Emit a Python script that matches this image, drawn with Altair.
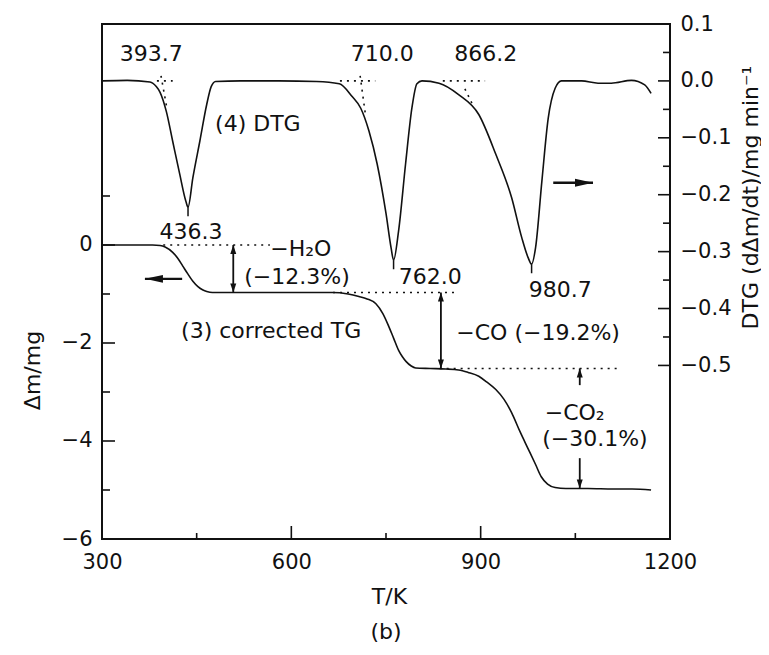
import altair as alt
import pandas as pd

FONT = "DejaVu Sans"
W, H = 568, 515

# ---------------- data ----------------
# (3) corrected TG  (left axis, mg)
tg_T = [300, 340, 380, 392, 400, 412, 420, 428, 436, 444, 452, 460, 466, 475, 500, 560, 620, 665,
        690, 707, 720, 734, 745, 755, 762, 770, 776, 782, 790, 797, 820, 845, 865, 880, 897, 910,
        924, 937, 949, 962, 976, 987, 996, 1006, 1018, 1035, 1070, 1110, 1140, 1170]
tg_m = [0.0, 0.0, 0.0, -0.01, -0.04, -0.15, -0.27, -0.43, -0.59, -0.74, -0.85, -0.92, -0.95, -0.97,
        -0.97, -0.97, -0.97, -0.97, -1.0, -1.05, -1.1, -1.2, -1.4, -1.68, -1.9, -2.15, -2.28, -2.38,
        -2.47, -2.51, -2.52, -2.53, -2.55, -2.6, -2.68, -2.8, -2.95, -3.15, -3.42, -3.8, -4.18, -4.48,
        -4.73, -4.88, -4.95, -4.97, -4.97, -4.98, -4.98, -5.0]

# (4) DTG  (right axis, mg/min)
dtg_T = [300, 340, 376, 386, 392, 402, 412, 423, 433, 436.3, 444, 455, 466, 473, 480, 520, 580, 640,
         676, 696, 710, 723, 736, 750, 758, 762, 770, 781, 791, 799, 807, 834, 865, 897, 924, 949,
         965, 975, 980.7, 987, 997, 1007, 1018, 1028, 1060, 1086, 1107, 1139, 1160, 1170]
dtg_v = [0.0, 0.001, -0.002, -0.01, -0.02, -0.054, -0.106, -0.163, -0.212, -0.222, -0.17, -0.106,
         -0.041, -0.01, -0.001, 0.0, 0.0, -0.001, -0.005, -0.027, -0.048, -0.088, -0.146, -0.233,
         -0.293, -0.315, -0.263, -0.146, -0.048, -0.005, 0.0, -0.004, -0.024, -0.059, -0.129, -0.205,
         -0.275, -0.31, -0.322, -0.293, -0.176, -0.066, -0.013, 0.0, 0.0, -0.004, -0.004, 0.001,
         -0.007, -0.022]

# dotted guide lines on the TG scale
tg_dot_T1 = [397, 666, 835]
tg_dot_T2 = [566, 862, 1116]
tg_dot_m = [0.0, -0.97, -2.52]

# dotted baseline pieces and tangents on the DTG scale
dtg_dot_T1 = [387, 677, 840, 393.5, 709, 875]
dtg_dot_T2 = [412, 733, 907, 403, 717, 886]
dtg_dot_v1 = [0.0, 0.0, 0.0, 0.009, 0.009, -0.014]
dtg_dot_v2 = [0.0, 0.0, 0.0, -0.049, -0.056, -0.039]

# peak markers below the DTG minima
peak_T = [436.3, 762.0, 980.7]
peak_v = [-0.222, -0.315, -0.322]

# vertical mass-loss arrows (TG scale)
arr_T = [508, 837, 1057, 1057]
arr_m1 = [0.0, -0.97, -2.52, -4.35]
arr_m2 = [-0.97, -2.52, -2.86, -4.97]
head_up_T = [508, 837, 1057]
head_up_m = [0.0, -0.97, -2.52]
head_dn_T = [508, 837, 1057]
head_dn_m = [-0.97, -2.52, -4.97]

# horizontal axis-pointer arrows
left_arrow = dict(T1=368, T2=427, m=-0.69)
right_arrow = dict(T1=1015, T2=1078, v=-0.179)

# annotation texts
tg_lab = ["\u2212H\u2082O", "(\u221212.3%)", "(3) corrected TG", "\u2212CO (\u221219.2%)",
          "\u2212CO\u2082", "(\u221230.1%)"]
tg_lab_T = [615, 609, 568, 991, 1049, 1081]
tg_lab_m = [-0.08, -0.65, -1.76, -1.80, -3.42, -3.96]

dtg_lab = ["393.7", "710.0", "866.2", "(4) DTG", "436.3", "762.0", "980.7"]
dtg_lab_T = [378, 744, 908, 547, 441, 820, 1026]
dtg_lab_v = [0.0465, 0.0465, 0.0465, -0.076, -0.265, -0.345, -0.368]

# axis ticks
x_major = [600, 900]
x_minor = [450, 750, 1050]
tg_major = [0, -2, -4]
tg_minor = [1, -1, -3, -5]
dtg_major = [0.0, -0.1, -0.2, -0.3, -0.4, -0.5]
dtg_minor = [0.05, -0.05, -0.15, -0.25, -0.35, -0.45]

x_labels = [300, 600, 900, 1200]
tg_labels = [0, -2, -4, -6]
dtg_labels = [0.1, 0.0, -0.1, -0.2, -0.3, -0.4, -0.5]

# ---------------- scales and axes ----------------
X_DOM = [300, 1200]
TG_DOM = [-6, 4.51]
DTG_DOM = [-0.805, 0.1]

def xs():
    return alt.Scale(domain=X_DOM, nice=False, zero=False)

def ts():
    return alt.Scale(domain=TG_DOM, nice=False, zero=False)

def ds():
    return alt.Scale(domain=DTG_DOM, nice=False, zero=False)

INK = "#111111"

def common():
    return dict(ticks=False, domain=False, grid=False, labelFont=FONT, labelFontSize=21,
                labelColor=INK, titleFont=FONT, titleFontSize=22, titleFontWeight="normal",
                titleColor=INK, zindex=2)

def x_axis():
    return alt.Axis(orient="bottom", values=x_labels, format="d", labelPadding=12,
                    labelFlush=False, title="T/K", titleY=57, titleX=287,
                    titleBaseline="middle", **common())

tg_axis = alt.Axis(orient="left", values=tg_labels, labelPadding=10,
                   labelExpr="replace(format(datum.value, 'd'), '-', '\u2212')",
                   title="\u0394m/mg", titleX=-70, titleY=346, titleAngle=270,
                   titleAlign="center", titleBaseline="middle", **common())
dtg_axis = alt.Axis(orient="right", values=dtg_labels, labelPadding=10,
                    labelExpr="replace(format(datum.value, '.1f'), '-', '\u2212')",
                    title="DTG (d\u0394m/dt)/mg min\u207b\u00b9", titleX=80, titleY=173,
                    titleAngle=270, titleAlign="center", titleBaseline="middle", **common())

def xq(f):
    # every layer carries the same x axis definition so the shared axis merges cleanly
    return alt.X(f, type="quantitative", scale=xs(), axis=x_axis())

def tq(f):
    return alt.Y(f, type="quantitative", scale=ts(), axis=None)

def dq(f):
    return alt.Y(f, type="quantitative", scale=ds(), axis=None)

UP = "M0,0 L-1,3 L1,3 Z"
DOWN = "M0,0 L-1,-3 L1,-3 Z"
LEFT = "M0,0 L6,-1.3 L6,1.3 Z"
RIGHT = "M0,0 L-6,-1.3 L-6,1.3 Z"

# ---------------- TG marks ----------------
tg_df = pd.DataFrame({"T": tg_T, "m": tg_m})
tg_line = alt.Chart(tg_df).mark_line(color=INK, strokeWidth=1.6, interpolate="monotone").encode(
    x=xq("T"),
    y=alt.Y("m:Q", scale=ts(), axis=tg_axis),
)
tg_dots = alt.Chart(pd.DataFrame({"T1": tg_dot_T1, "T2": tg_dot_T2, "m": tg_dot_m})).mark_rule(
    color=INK, strokeWidth=1.6, strokeDash=[2, 5]).encode(x=xq("T1"), x2="T2", y=tq("m"))
tg_arr = alt.Chart(pd.DataFrame({"T": arr_T, "m1": arr_m1, "m2": arr_m2})).mark_rule(
    color=INK, strokeWidth=1.8).encode(x=xq("T"), y=tq("m1"), y2="m2")
tg_hu = alt.Chart(pd.DataFrame({"T": head_up_T, "m": head_up_m})).mark_point(
    shape=UP, filled=True, size=36, color=INK, opacity=1, strokeWidth=0).encode(x=xq("T"), y=tq("m"))
tg_hd = alt.Chart(pd.DataFrame({"T": head_dn_T, "m": head_dn_m})).mark_point(
    shape=DOWN, filled=True, size=36, color=INK, opacity=1, strokeWidth=0).encode(x=xq("T"), y=tq("m"))
la_df = pd.DataFrame([left_arrow])
tg_la = alt.Chart(la_df).mark_rule(color=INK, strokeWidth=2.2).encode(x=xq("T1"), x2="T2", y=tq("m"))
tg_lah = alt.Chart(la_df).mark_point(shape=LEFT, filled=True, size=36, color=INK, opacity=1,
                                     strokeWidth=0).encode(x=xq("T1"), y=tq("m"))
tg_text = alt.Chart(pd.DataFrame({"T": tg_lab_T, "m": tg_lab_m, "t": tg_lab})).mark_text(
    font=FONT, fontSize=22, align="center", baseline="middle", color=INK).encode(
    x=xq("T"), y=tq("m"), text="t:N")

def xticks(vals, ln):
    return alt.Chart(pd.DataFrame({"T": vals})).mark_rule(color=INK, strokeWidth=1.6).encode(
        x=xq("T"), y=alt.value(H), y2=alt.value(H - ln))

def tticks(vals, ln):
    return alt.Chart(pd.DataFrame({"m": vals})).mark_rule(color=INK, strokeWidth=1.6).encode(
        y=tq("m"), x=alt.value(0), x2=alt.value(ln))

# ---------------- DTG marks ----------------
dtg_df = pd.DataFrame({"T": dtg_T, "v": dtg_v})
dtg_line = alt.Chart(dtg_df).mark_line(color=INK, strokeWidth=1.6, interpolate="monotone").encode(
    x=xq("T"),
    y=alt.Y("v:Q", scale=ds(), axis=dtg_axis),
)
dtg_dots = alt.Chart(pd.DataFrame({"T1": dtg_dot_T1, "T2": dtg_dot_T2, "v1": dtg_dot_v1,
                                   "v2": dtg_dot_v2})).mark_rule(
    color=INK, strokeWidth=1.6, strokeDash=[2, 5]).encode(x=xq("T1"), x2="T2", y=dq("v1"), y2="v2")
pk = pd.DataFrame({"T": peak_T, "v1": peak_v, "v2": [v - 0.016 for v in peak_v]})
dtg_pk = alt.Chart(pk).mark_rule(color=INK, strokeWidth=1.5).encode(x=xq("T"), y=dq("v1"), y2="v2")
ra_df = pd.DataFrame([right_arrow])
dtg_ra = alt.Chart(ra_df).mark_rule(color=INK, strokeWidth=2.4).encode(x=xq("T1"), x2="T2", y=dq("v"))
dtg_rah = alt.Chart(ra_df).mark_point(shape=RIGHT, filled=True, size=36, color=INK, opacity=1,
                                      strokeWidth=0).encode(x=xq("T2"), y=dq("v"))
dtg_text = alt.Chart(pd.DataFrame({"T": dtg_lab_T, "v": dtg_lab_v, "t": dtg_lab})).mark_text(
    font=FONT, fontSize=22, align="center", baseline="middle", color=INK).encode(
    x=xq("T"), y=dq("v"), text="t:N")

def dticks(vals, ln):
    return alt.Chart(pd.DataFrame({"v": vals})).mark_rule(color=INK, strokeWidth=1.6).encode(
        y=dq("v"), x=alt.value(W), x2=alt.value(W - ln))

chart = alt.layer(
    tg_line, dtg_line,
    tg_dots, tg_arr, tg_hu, tg_hd, tg_la, tg_lah, tg_text,
    xticks(x_major, 13), xticks(x_minor, 6), tticks(tg_major, 13), tticks(tg_minor, 8),
    dtg_dots, dtg_pk, dtg_ra, dtg_rah, dtg_text,
    dticks(dtg_major, 12), dticks(dtg_minor, 7),
).resolve_scale(y="independent").properties(
    width=W, height=H,
    autosize=alt.AutoSizeParams(type="none"),
    padding={"left": 94, "top": 16, "right": 91, "bottom": 108},
    title=alt.TitleParams("(b)", orient="bottom", anchor="middle", font=FONT, fontSize=22,
                          fontWeight="normal", color=INK, offset=15),
).configure(background="white").configure_view(stroke=INK, strokeWidth=2)

chart.save("out.html", embed_options={"renderer": "svg", "actions": False})
